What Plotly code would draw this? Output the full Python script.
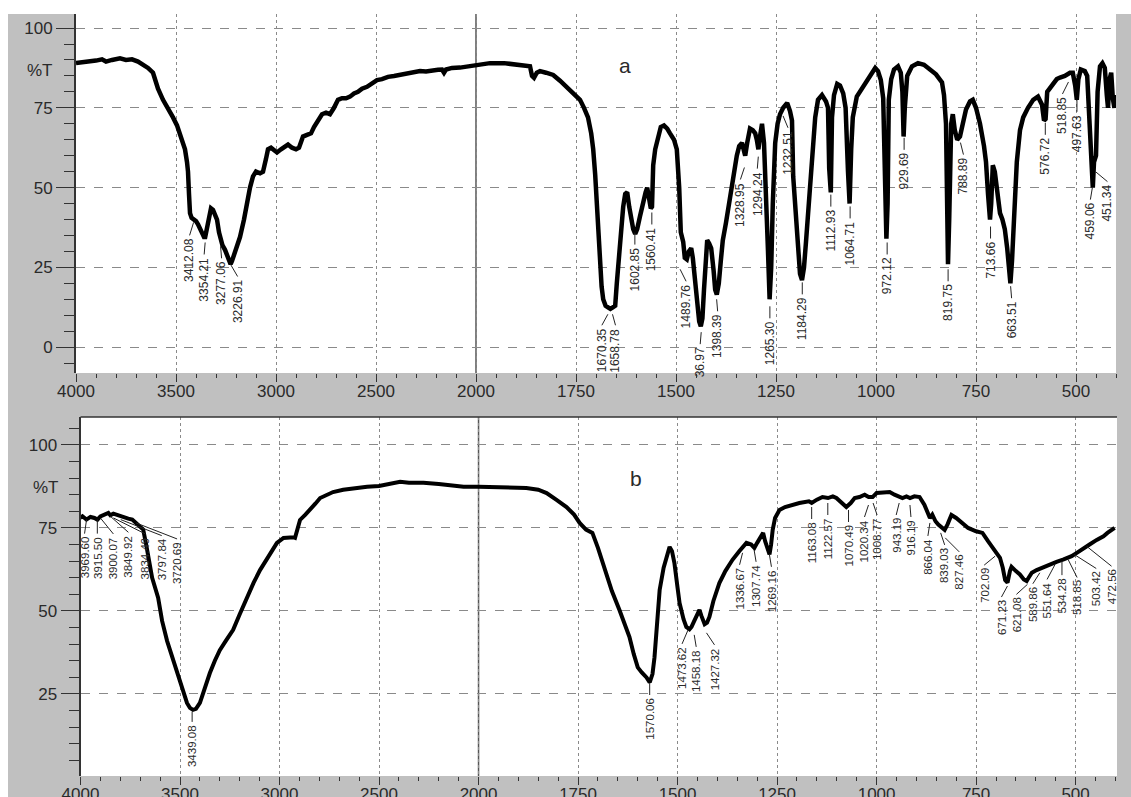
import numpy as np
import plotly.graph_objects as go

# ---------------- data: spectrum (a) ----------------
a_wn = [4000,3950,3900,3870,3850,3820,3780,3750,3720,3690,3660,3640,3615,3590,3565,3540,3515,3495,3480,3465,
        3455,3445,3440,3435,3430,3422,3412,3400,3390,3380,3370,3360,3354,3345,3335,3325,3315,3305,3295,3285,
        3277,3268,3255,3245,3235,3227,3220,3200,3180,3160,3145,3130,3115,3100,3080,3065,3050,3040,3025,3010,
        2995,2975,2955,2940,2920,2900,2885,2865,2845,2825,2810,2790,2770,2750,2730,2710,2690,2670,2650,2630,
        2610,2590,2570,2545,2520,2495,2470,2440,2410,2380,2350,2315,2280,2250,2220,2190,2170,2160,2150,2120,
        2080,2040,2000,1965,1930,1900,1880,1865,1860,1855,1848,1840,1825,1807,1790,1773,1755,1740,1730,1720,
        1712,1707,1702,1698,1694,1690,1686,1682,1676,1670,1664,1658,1652,1648,1645,1640,1636,1632,1627,1622,
        1617,1612,1607,1602,1597,1590,1582,1576,1572,1568,1563,1560,1557,1552,1545,1538,1530,1522,1515,1505,
        1498,1492,1488,1482,1478,1473,1468,1462,1458,1452,1448,1442,1438,1434,1430,1426,1422,1417,1412,1406,
        1402,1398,1393,1388,1383,1375,1365,1357,1348,1342,1335,1330,1327,1322,1315,1308,1302,1298,1294,1290,
        1285,1280,1275,1270,1266,1262,1258,1252,1246,1240,1232,1222,1215,1210,1207,1200,1195,1190,1185,1180,
        1175,1168,1160,1152,1145,1135,1125,1120,1117,1113,1110,1105,1097,1090,1082,1076,1070,1066,1062,1058,
        1048,1035,1023,1010,1002,995,988,982,978,974,971,968,962,955,945,938,934,931,928,922,
        910,895,880,865,850,835,830,825,822,820,817,812,808,803,797,790,783,775,765,758,
        750,740,730,725,720,715,712,708,703,697,690,684,678,672,668,664,660,655,648,640,
        632,620,607,595,585,580,576,572,560,548,540,528,515,508,502,498,494,488,478,472,
        466,461,458,455,450,446,440,434,428,423,420,416,412,408,404,400]
a_T = [89.0,89.3,89.8,90.2,89.5,90.0,90.5,90.0,90.2,89.5,88.5,87.5,86.0,81.0,77.5,75.0,72.0,69.5,67.0,64.0,
       62.0,58.0,55.0,48.0,42.0,40.5,40.0,39.5,38.5,37.0,35.5,34.5,34.5,37.0,41.0,43.5,43.0,41.5,40.0,36.0,
       34.0,32.0,30.5,29.0,28.0,26.0,27.0,30.5,34.5,40.0,46.0,50.0,53.5,55.0,54.5,55.0,59.0,62.0,62.5,61.5,
       61.0,62.0,63.0,63.5,62.5,62.0,62.5,66.0,66.5,67.0,69.0,71.0,73.0,73.5,73.0,75.0,77.5,78.0,78.0,78.5,
       79.5,80.0,81.0,81.6,82.5,83.7,84.0,84.7,85.0,85.3,85.8,86.3,86.5,86.4,86.8,86.9,87.0,86.0,87.0,87.5,
       87.6,88.0,88.4,89.0,89.0,88.7,88.4,88.0,85.0,84.4,86.0,86.5,86.0,85.3,83.5,81.6,79.5,77.5,75.0,72.0,
       67.0,62.0,54.0,46.0,35.0,25.0,19.0,15.0,13.0,12.5,12.0,12.5,13.0,20.0,25.0,34.0,40.0,44.0,48.0,48.5,
       44.0,40.0,37.0,35.5,37.0,41.0,46.0,48.5,50.0,47.0,43.5,44.0,57.0,62.0,66.0,69.0,69.5,68.5,67.0,65.0,
       62.0,50.0,36.0,33.0,28.0,27.5,30.0,31.0,28.0,20.0,14.0,8.0,6.5,9.0,18.0,28.0,33.5,32.5,31.0,24.0,
       18.0,16.5,20.0,27.0,33.5,39.0,46.0,53.0,60.0,63.0,64.0,62.0,60.0,64.0,68.5,68.0,67.0,65.0,62.0,66.0,
       70.0,64.0,50.0,30.0,15.0,25.0,45.0,64.0,70.0,73.0,75.0,76.5,74.0,71.0,53.5,40.0,28.0,23.0,21.0,25.0,
       33.0,45.0,60.0,72.0,77.5,79.0,77.0,75.0,56.0,48.5,72.0,79.0,82.5,82.0,79.5,75.0,55.0,45.0,62.0,72.0,
       78.5,81.0,83.7,86.0,87.5,86.5,83.7,78.0,50.0,34.0,45.0,77.5,84.0,87.0,88.0,86.0,80.0,66.0,75.0,85.0,
       88.0,89.0,88.5,87.0,85.5,83.0,79.0,70.0,50.0,26.0,40.0,70.0,73.0,68.0,65.0,66.0,70.0,74.5,77.0,77.5,
       75.0,70.0,63.0,58.0,48.0,40.0,45.0,57.0,55.0,48.0,42.0,40.0,37.0,31.0,25.0,20.0,27.0,40.0,58.0,68.0,
       72.0,75.0,77.5,78.5,76.0,71.0,71.5,80.0,82.0,84.0,84.5,85.0,86.0,86.0,82.0,77.5,84.0,87.0,86.5,85.0,
       70.0,52.0,50.0,58.0,60.0,80.0,88.0,89.0,87.5,79.0,75.0,84.0,86.0,78.0,75.0,79.0]

# ---------------- data: spectrum (b) ----------------
b_wn = [4000,3990,3970,3950,3930,3915,3900,3880,3860,3850,3835,3820,3800,3780,3760,3740,3720,3700,3685,3670,
        3640,3610,3590,3565,3540,3515,3490,3465,3450,3435,3420,3400,3375,3350,3325,3300,3270,3233,3200,3163,
        3130,3098,3060,3013,2980,2948,2930,2922,2910,2897,2870,2846,2820,2796,2760,2731,2680,2620,2560,2500,
        2450,2394,2350,2277,2200,2150,2075,2000,1940,1880,1850,1829,1805,1779,1760,1746,1730,1714,1700,1690,
        1679,1665,1646,1633,1621,1610,1600,1590,1578,1570,1563,1558,1552,1545,1535,1528,1520,1514,1508,1500,
        1495,1485,1478,1470,1465,1458,1450,1445,1440,1432,1426,1420,1410,1395,1380,1362,1345,1336,1327,1315,
        1307,1300,1292,1285,1280,1273,1269,1265,1261,1255,1244,1230,1210,1194,1170,1163,1150,1136,1122,1110,
        1101,1085,1076,1065,1055,1043,1030,1020,1010,1000,985,967,955,943,935,925,916,905,892,880,
        870,866,860,852,845,839,829,822,812,800,784,770,750,734,720,710,699,690,683,677,
        671,665,661,650,640,630,623,618,610,598,585,570,548,530,510,497,480,465,447,430,
        420,410,402]
b_T = [78.0,78.5,77.5,78.3,78.0,77.5,78.5,79.0,79.5,78.8,79.3,79.0,78.5,78.0,77.8,77.5,76.5,75.5,74.5,70.0,
       60.0,54.0,47.0,41.0,36.0,31.3,27.0,22.3,20.8,20.2,20.5,22.3,27.0,31.3,35.0,38.2,41.0,44.3,49.0,54.2,
       58.5,62.3,66.0,70.5,72.0,72.3,72.2,72.0,75.0,77.4,79.0,80.4,82.3,84.0,85.0,85.8,86.5,87.0,87.4,87.6,
       88.2,88.9,88.6,88.6,88.2,87.8,87.4,87.4,87.3,87.0,86.5,85.5,83.5,81.3,79.0,76.5,74.5,73.5,69.0,65.0,
       61.4,56.0,50.3,46.0,42.2,37.0,33.0,31.5,30.0,28.5,31.0,36.0,47.0,56.3,63.0,66.3,69.3,68.0,64.5,57.0,
       52.4,47.5,45.2,44.5,45.2,47.0,49.5,50.3,48.5,46.0,46.5,48.2,53.0,58.4,62.0,65.4,68.0,69.5,70.5,70.0,
       69.0,70.5,72.0,73.5,71.0,67.8,67.0,70.0,74.4,78.0,80.4,81.3,82.0,82.5,83.0,82.5,83.5,84.3,84.0,84.5,
       84.0,82.5,81.3,82.5,84.0,84.3,85.0,84.3,84.3,85.5,85.5,85.8,85.0,84.5,84.0,84.5,84.0,84.5,84.3,82.0,
       79.0,78.0,79.0,77.0,76.0,75.5,74.4,76.0,78.9,78.0,76.5,75.0,74.0,73.5,71.0,69.5,67.5,66.0,63.0,59.3,
       58.5,62.0,63.3,62.0,61.0,59.5,59.0,60.0,61.5,62.3,63.0,63.7,64.8,65.5,66.5,67.5,69.0,70.0,71.4,72.5,
       73.5,74.4,75.0]

# ---------------- peak labels ----------------
a_lab = ["3412.08","3354.21","3277.06","3226.91","1670.35","1658.78","1602.85","1560.41","1489.76","36.97",
         "1398.39","1328.95","1294.24","1265.30","1232.51","1184.29","1112.93","1064.71","972.12","929.69",
         "819.75","788.89","713.66","663.51","576.72","518.85","497.63","459.06","451.34"]
a_lab_wn = [3412.08,3354.21,3277.06,3226.91,1670.35,1658.78,1602.85,1560.41,1489.76,1436.97,
            1398.39,1328.95,1294.24,1265.30,1232.51,1184.29,1112.93,1064.71,972.12,929.69,
            819.75,788.89,713.66,663.51,576.72,518.85,497.63,459.06,451.34]
a_lab_T = [39.1,32.8,31.6,25.9,10.3,10.3,35.9,42.2,24.4,4.7,
           15.0,56.3,59.7,12.8,72.5,20.3,47.8,44.1,32.8,65.6,
           24.4,64.1,37.8,19.1,70.3,83.1,77.5,50.0,55.0]

b_lab = ["3969.60","3915.50","3900.07","3849.92","3834.49","3797.84","3720.69","3439.08","1570.06","1473.62",
         "1458.18","1427.32","1336.67","1307.74","1269.16","1163.08","1122.57","1070.49","1020.34","1008.77",
         "943.19","916.19","866.04","839.03","827.46","702.09","671.23","621.08","589.86","551.64",
         "534.28","518.85","503.42","472.56"]
b_lab_wn = [3969.60,3915.50,3900.07,3849.92,3834.49,3797.84,3720.69,3439.08,1570.06,1473.62,
            1458.18,1427.32,1336.67,1307.74,1269.16,1163.08,1122.57,1070.49,1020.34,1008.77,
            943.19,916.19,866.04,839.03,827.46,702.09,671.23,621.08,589.86,551.64,
            534.28,518.85,503.42,472.56]
b_lab_T = [77.5,77.5,78.0,78.5,78.0,77.5,76.5,19.6,28.3,44.3,
           42.8,43.4,67.5,68.4,66.9,81.3,82.5,80.4,81.9,82.5,
           82.5,81.9,76.5,73.5,72.0,66.5,57.5,58.0,61.5,64.0,
           65.0,65.5,67.0,69.5]

x_major = [4000,3500,3000,2500,2000,1750,1500,1250,1000,750,500]
x_minor = [3900,3800,3700,3600,3400,3300,3200,3100,2900,2800,2700,2600,2400,2300,2200,2100,
           1950,1900,1850,1800,1700,1650,1600,1550,1450,1400,1350,1300,1200,1150,1100,1050,
           950,900,850,800,700,650,600,550,450,400]

# ---------------- styling (offsets of the label leaders, px) ----------------
a_dx = [-4,-1,1,7,-6,3,0,0,6,-1,1,-4,-1,0,5,0,0,0,0,0,0,3,0,1,0,-6,0,-2,12]
a_lead = [13,12,12,12,11,11,12,12,12,12,12,12,12,12,12,12,12,12,12,12,12,12,12,12,12,12,12,12,10]
b_dx = [-2,0,13,18,32,41,41,0,0,-6,2,8,-3,2,2,0,0,0,-4,4,-3,1,-2,4,14,-11,-6,-11,-7,-8,0,9,22,25]
b_lead = [14,14,16,16,16,16,16,10,12,14,12,12,12,12,12,12,12,12,12,12,12,12,13,12,14,9,11,10,11,15,14,18,14,20]


def pos(v):
    """FTIR two-scale axis: 2000 cm-1 spans half as much width above 2000."""
    v = np.asarray(v, dtype=float)
    return np.where(v >= 2000, (4000 - v) / 2.0, 1000 + (2000 - v))


W, H = 1131, 797
FONT = "Liberation Sans, Arial, sans-serif"
TXT = "#2a2a2a"

fig = go.Figure()
fig.add_trace(go.Scatter(x=pos(a_wn), y=a_T, mode="lines", xaxis="x", yaxis="y",
                         line=dict(color="black", width=4.5), showlegend=False, hoverinfo="skip"))
fig.add_trace(go.Scatter(x=pos(b_wn), y=b_T, mode="lines", xaxis="x2", yaxis="y2",
                         line=dict(color="black", width=4), showlegend=False, hoverinfo="skip"))

xtick_common = dict(
    tickmode="array", tickvals=pos(x_major).tolist(), ticktext=[str(v) for v in x_major],
    ticks="outside", ticklen=8, tickcolor="#333", tickwidth=1, ticklabelstandoff=-5,
    tickfont=dict(family=FONT, size=17, color=TXT),
    showgrid=True, gridcolor="#8a8a8a", griddash="dot", gridwidth=1,
    minor=dict(tickmode="array", tickvals=pos(x_minor).tolist(), ticks="outside", ticklen=4,
               tickcolor="#333", tickwidth=1, showgrid=False),
    zeroline=False, showline=False, fixedrange=True, automargin=False,
)
ytick_common = dict(
    ticks="outside", ticklen=18, tickcolor="#333", tickwidth=1,
    tickfont=dict(family=FONT, size=17, color=TXT),
    showgrid=True, gridcolor="#8a8a8a", griddash="dash", gridwidth=1,
    minor=dict(tick0=0, dtick=5, ticks="outside", ticklen=10, tickcolor="#333", showgrid=False),
    zeroline=False, showline=True, linecolor="#333", linewidth=2, fixedrange=True, automargin=False,
)

fig.update_layout(
    width=W, height=H, margin=dict(l=0, r=0, t=0, b=0, autoexpand=False),
    paper_bgcolor="#c0c0c0", plot_bgcolor="white",
    xaxis=dict(domain=[76 / W, 1116 / W], range=[0, 2600], anchor="y", **xtick_common),
    yaxis=dict(domain=[1 - 373 / H, 1 - 14 / H], range=[-8.1, 104.4], anchor="x",
               tickvals=[0, 25, 50, 75, 100], **ytick_common),
    xaxis2=dict(domain=[80.5 / W, 1117 / W], range=[0, 2604], anchor="y2", **xtick_common),
    yaxis2=dict(domain=[1 - 776 / H, 1 - 417 / H], range=[0.3, 108.4], anchor="x2",
                tickvals=[25, 50, 75, 100], **ytick_common),
)

shapes = [
    dict(type="rect", xref="paper", yref="paper", x0=0, x1=8 / W, y0=0, y1=1,
         fillcolor="white", line=dict(width=0), layer="below"),
    dict(type="rect", xref="paper", yref="paper", x0=0, x1=1, y0=1 - 14 / H, y1=1,
         fillcolor="white", line=dict(width=0), layer="below"),
    dict(type="line", xref="paper", yref="paper", x0=80.5 / W, x1=1117 / W,
         y0=1 - 417 / H, y1=1 - 417 / H, line=dict(color="#333", width=1.5)),
    dict(type="line", xref="x", yref="y domain", x0=float(pos(2000)), x1=float(pos(2000)),
         y0=0, y1=1, line=dict(color="#555", width=1.5), layer="below"),
    dict(type="line", xref="x2", yref="y2 domain", x0=float(pos(2000)), x1=float(pos(2000)),
         y0=0, y1=1, line=dict(color="#555", width=1.5), layer="below"),
]

annotations = []


def add_labels(labels, wns, Ts, dxs, leads, xr, yr, fsize):
    for lab, wn, t, dx, ld in zip(labels, wns, Ts, dxs, leads):
        xp = float(pos(wn))
        shapes.append(dict(type="line", xref=xr, yref=yr, xsizemode="pixel", ysizemode="pixel",
                           xanchor=xp, yanchor=t, x0=0, x1=dx, y0=0, y1=-ld,
                           line=dict(color="#222", width=1)))
        annotations.append(dict(x=xp, y=t, xref=xr, yref=yr, text=lab, showarrow=False,
                                textangle=-90, xanchor="center", yanchor="top",
                                xshift=dx, yshift=-ld - 1,
                                font=dict(family=FONT, size=fsize, color=TXT)))


add_labels(a_lab, a_lab_wn, a_lab_T, a_dx, a_lead, "x", "y", 12)
add_labels(b_lab, b_lab_wn, b_lab_T, b_dx, b_lead, "x2", "y2", 11.5)

annotations += [
    dict(x=625 / W, y=1 - 65 / H, xref="paper", yref="paper", text="a", showarrow=False,
         xanchor="center", yanchor="middle", font=dict(family=FONT, size=21, color=TXT)),
    dict(x=636 / W, y=1 - 478 / H, xref="paper", yref="paper", text="b", showarrow=False,
         xanchor="center", yanchor="middle", font=dict(family=FONT, size=21, color=TXT)),
    dict(x=40 / W, y=1 - 70 / H, xref="paper", yref="paper", text="%T", showarrow=False,
         xanchor="center", yanchor="middle", font=dict(family=FONT, size=17, color=TXT)),
    dict(x=46 / W, y=1 - 487 / H, xref="paper", yref="paper", text="%T", showarrow=False,
         xanchor="center", yanchor="middle", font=dict(family=FONT, size=17, color=TXT)),
]

fig.update_layout(shapes=shapes, annotations=annotations)
fig.write_html("out.html")
